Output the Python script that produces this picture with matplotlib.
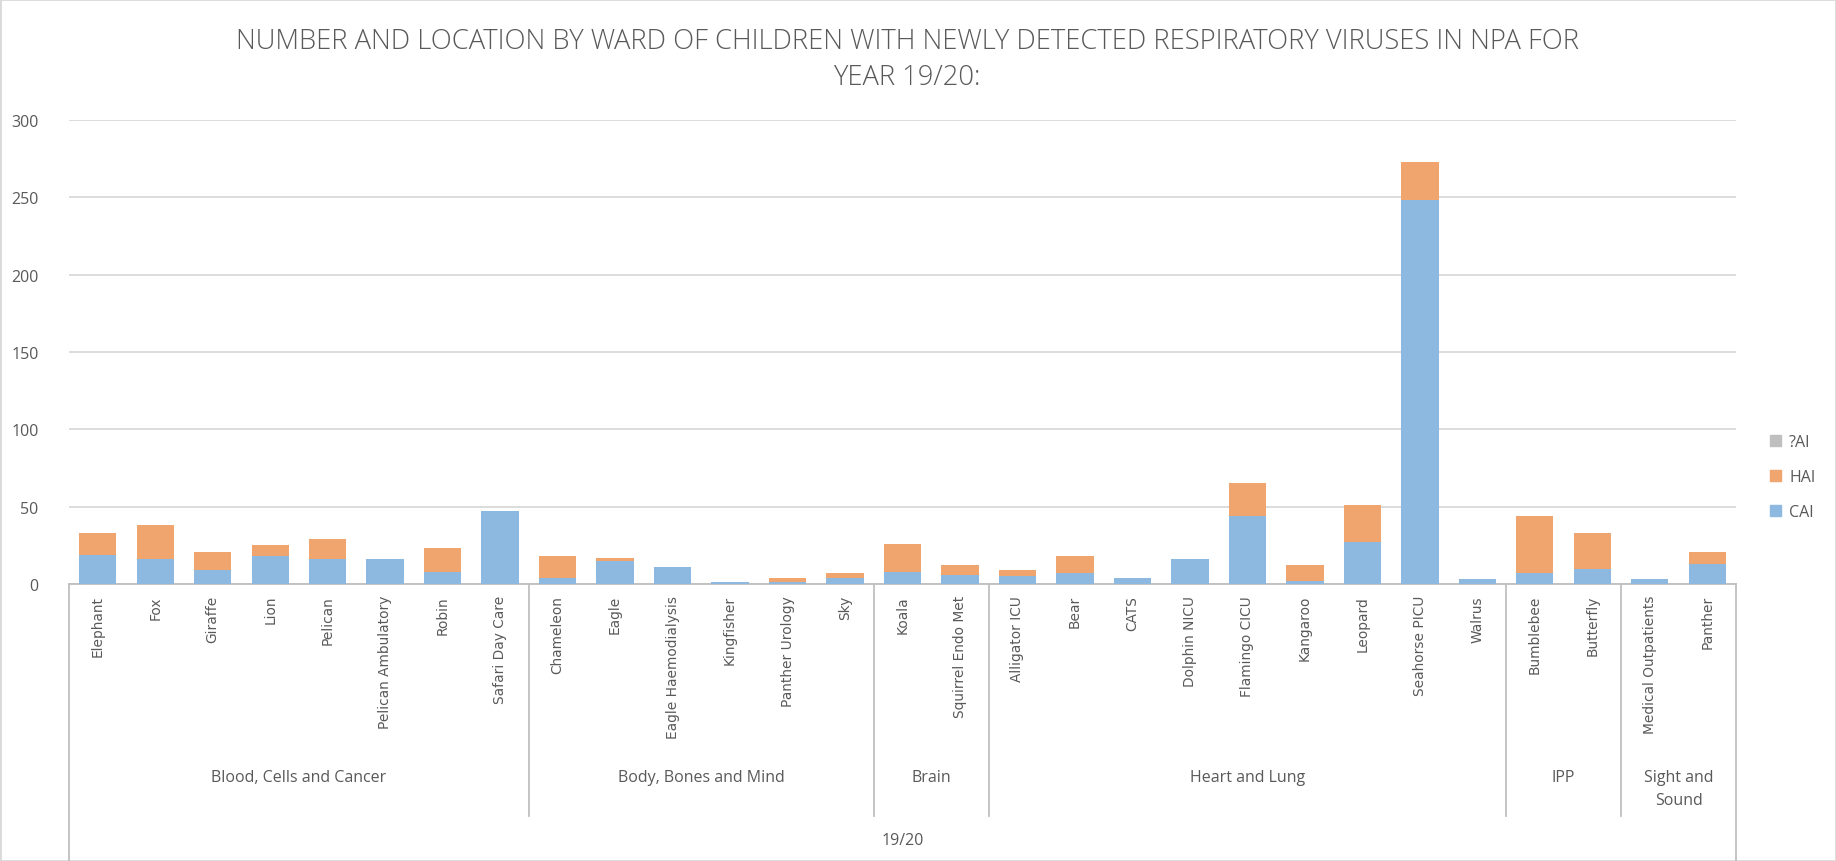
import matplotlib
matplotlib.use("Agg")
import matplotlib.pyplot as plt
import numpy as np
from matplotlib import font_manager
from matplotlib.lines import Line2D
from matplotlib.patches import Patch, Rectangle
from matplotlib.transforms import blended_transform_factory


def pick_font(names):
    installed = {f.name for f in font_manager.fontManager.ttflist}
    for name in names:
        if name in installed:
            return name
    return "DejaVu Sans"


wards = [
    "Elephant", "Fox", "Giraffe", "Lion", "Pelican", "Pelican Ambulatory", "Robin", "Safari Day Care",
    "Chameleon", "Eagle", "Eagle Haemodialysis", "Kingfisher", "Panther Urology", "Sky",
    "Koala", "Squirrel Endo Met",
    "Alligator ICU", "Bear", "CATS", "Dolphin NICU", "Flamingo CICU", "Kangaroo", "Leopard",
    "Seahorse PICU", "Walrus",
    "Bumblebee", "Butterfly",
    "Medical Outpatients", "Panther",
]
groups = ["Blood, Cells and Cancer", "Body, Bones and Mind", "Brain", "Heart and Lung", "IPP",
          "Sight and\nSound"]
group_sizes = [8, 6, 2, 9, 2, 2]
year_label = "19/20"

cai = [19, 16, 9, 18, 16, 16, 8, 47,
       4, 15, 11, 1, 1, 4,
       8, 6,
       5, 7, 4, 16, 44, 2, 27, 248, 3,
       7, 10,
       3, 13]
hai = [14, 22, 12, 7, 13, 0, 15, 0,
       14, 2, 0, 0, 3, 3,
       18, 6,
       4, 11, 0, 0, 21, 10, 24, 25, 0,
       37, 23,
       0, 8]
unk = [0] * len(wards)

title = ("NUMBER AND LOCATION BY WARD OF CHILDREN WITH NEWLY DETECTED RESPIRATORY VIRUSES IN NPA FOR\n"
         "YEAR 19/20:")

c_cai = "#8db8e0"
c_hai = "#f0a56f"
c_unk = "#bfbfbf"
txt = "#595959"
line_c = "#bfbfbf"

narrow = pick_font(["Liberation Sans Narrow", "Open Sans", "Lato", "Liberation Sans"])
wide = pick_font(["DejaVu Sans"])

W, H = 1836, 862
fig = plt.figure(figsize=(W / 100, H / 100), dpi=100)
fig.patch.set_facecolor("white")

x0, x1 = 69, 1736
y_top, y_base = 121, 585
ax = fig.add_axes([x0 / W, 1 - y_base / H, (x1 - x0) / W, (y_base - y_top) / H])

n = len(wards)
x = np.arange(n)
cai_a = np.array(cai)
hai_a = np.array(hai)
ax.bar(x, cai_a, width=0.65, color=c_cai, zorder=3, label="CAI")
ax.bar(x, hai_a, width=0.65, bottom=cai_a, color=c_hai, zorder=3, label="HAI")
ax.bar(x, unk, width=0.65, bottom=cai_a + hai_a, color=c_unk, zorder=3, label="?AI")

ax.set_xlim(-0.5, n - 0.5)
ax.set_ylim(0, 300)
ax.set_yticks(np.arange(0, 301, 50))
ax.grid(axis="y", color="#d9d9d9", linewidth=1.3, zorder=0)
ax.tick_params(axis="y", length=0, pad=22, labelsize=11.5, labelcolor=txt)
for lab in ax.get_yticklabels():
    lab.set_fontfamily(narrow)
ax.set_xticks([])
for side in ["top", "right", "left"]:
    ax.spines[side].set_visible(False)
ax.spines["bottom"].set_color(line_c)
ax.spines["bottom"].set_linewidth(1.3)

# multi-level category axis below the plot
trans = blended_transform_factory(ax.transData, fig.transFigure)
for i, name in enumerate(wards):
    ax.text(i, 1 - 596 / H, name, transform=trans, rotation=90, ha="center", va="top",
            fontsize=9.9, color=txt, family=wide)

edges = np.concatenate([[0], np.cumsum(group_sizes)]) - 0.5
for k, e in enumerate(edges):
    y_end = 0 if k in (0, len(edges) - 1) else 1 - 817 / H
    fig.add_artist(Line2D([e, e], [1 - y_base / H, y_end], transform=trans, color=line_c,
                          linewidth=1.3))
for g, name in enumerate(groups):
    mid = (edges[g] + edges[g + 1]) / 2
    ax.text(mid, 1 - 770 / H, name, transform=trans, ha="center", va="top", fontsize=11.5,
            color=txt, family=narrow, linespacing=1.6)
ax.text((n - 1) / 2, 1 - 841 / H, year_label, transform=trans, ha="center", va="center",
        fontsize=11.5, color=txt, family=narrow)

fig.text(907 / W, 1 - 60 / H, title, ha="center", va="center", fontsize=19.7, color=txt,
         family=narrow, fontweight="light", linespacing=1.35)

handles = [Patch(color=c_unk), Patch(color=c_hai), Patch(color=c_cai)]
fig.legend(handles, ["?AI", "HAI", "CAI"], loc="center left", bbox_to_anchor=(1770 / W, 1 - 478 / H),
           frameon=False, borderpad=0, borderaxespad=0, handlelength=0.7, handleheight=0.7,
           handletextpad=0.5, labelspacing=1.2, prop={"family": narrow, "size": 11.5},
           labelcolor=txt)

# chart border
fig.add_artist(Rectangle((0, 0), 1, 1, transform=fig.transFigure, fill=False,
                         edgecolor="#d9d9d9", linewidth=2))

fig.savefig("out.png", dpi=100)
